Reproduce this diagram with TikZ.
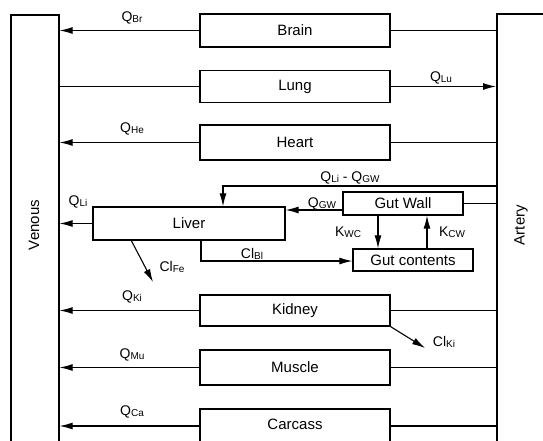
\documentclass[tikz,border=0pt]{standalone}
\usepackage{fontspec}
\setmainfont{Liberation Sans}
\usetikzlibrary{arrows.meta,calc}
\newcommand\sbq[1]{\raisebox{-0.8pt}{\fontsize{10}{10}\selectfont #1}}
\begin{document}
\begin{tikzpicture}[x=1pt,y=-1pt,
  organ/.style={draw,line width=1.3pt,inner sep=0pt,font=\fontsize{15}{17}\selectfont},
  gutbox/.style={draw,line width=1.3pt,inner sep=0pt,font=\fontsize{15}{17}\selectfont},
  vessel/.style={draw,line width=1.6pt,inner sep=0pt},
  flow/.style={line width=1.1pt},
  arr/.style={flow,-{Latex[length=13pt,width=7pt]}},
  lbl/.style={inner sep=0pt,font=\fontsize{14}{15}\selectfont},
  vtext/.style={rotate=90,font=\fontsize{15}{17}\selectfont,inner sep=0pt}]
\useasboundingbox (0,0) rectangle (543,440);
\clip (0,0) rectangle (543,440);
\fill[white] (0,0) rectangle (543,440);
% vessels
\node[vessel,minimum width=48pt,minimum height=440pt,anchor=north west] (venous) at (10,14) {};
\node[vessel,minimum width=70pt,minimum height=440pt,anchor=north west] (artery) at (496,13) {};
\node[vtext] (vlab) at (34,225) {Venous};
\node[vtext] (alab) at (521,225) {Artery};
% organs
\node[organ,minimum width=190pt,minimum height=33pt] (brain) at (295,30.5) {Brain};
\node[organ,minimum width=190pt,minimum height=32pt] (lung) at (295,86.5) {Lung};
\node[organ,minimum width=190pt,minimum height=35pt] (heart) at (295,142.5) {Heart};
\node[organ,minimum width=192pt,minimum height=33pt] (liver) at (189,223.5) {Liver};
\node[gutbox,minimum width=120pt,minimum height=23pt] (gw) at (403,203.5) {Gut Wall};
\node[gutbox,minimum width=120pt,minimum height=22pt] (gc) at (413,260) {Gut contents};
\node[organ,minimum width=190pt,minimum height=31pt] (kidney) at (295,310.5) {Kidney};
\node[organ,minimum width=190pt,minimum height=35pt] (muscle) at (295,367.5) {Muscle};
\node[organ,minimum width=190pt,text height=20pt,text depth=20pt,anchor=base] (carcass) at (295,429) {Carcass};
% coordinates
\coordinate (ybr) at (0,186);
\coordinate (turn) at (223,186);
\coordinate (yqgw) at (0,210);
\coordinate (blstart) at (201,240);
\coordinate (blturn) at (201,261);
\coordinate (festart) at (131,240);
\coordinate (feend) at (153,282);
\coordinate (kiend) at (425,348);
\coordinate (ycar) at (0,426);
\coordinate (kwcx) at (378,0);
\coordinate (kcwx) at (427,0);
% connectors venous side
\draw[arr] (brain.west) -- (brain.west -| venous.east);
\draw[flow] (venous.east |- lung.west) -- (lung.west);
\draw[arr] (heart.west) -- (heart.west -| venous.east);
\draw[arr] (liver.west) -- (liver.west -| venous.east);
\draw[arr] (kidney.west) -- (kidney.west -| venous.east);
\draw[arr] (muscle.west) -- (muscle.west -| venous.east);
\draw[arr] (carcass.west |- ycar) -- (venous.east |- ycar);
% artery side
\draw[flow] (brain.east) -- (brain.east -| artery.west);
\draw[arr] (lung.east) -- (lung.east -| artery.west);
\draw[flow] (heart.east) -- (heart.east -| artery.west);
\draw[flow] (gw.east) -- (gw.east -| artery.west);
\draw[flow] (kidney.east) -- (kidney.east -| artery.west);
\draw[flow] (muscle.east) -- (muscle.east -| artery.west);
\draw[flow] (carcass.east |- ycar) -- (artery.west |- ycar);
% liver / gut
\draw[arr] (artery.west |- ybr) -- (turn) -- (turn |- liver.north);
\draw[arr] (gw.west |- yqgw) -- (liver.east |- yqgw);
\draw[arr] (kwcx |- gw.south) -- (kwcx |- gc.north);
\draw[arr] (kcwx |- gc.north) -- (kcwx |- gw.south);
\draw[arr] (blstart) -- (blturn) -- (gc.west |- blturn);
\draw[arr] (festart) -- (feend);
\draw[arr] (kidney.south east) -- (kiend);
% labels
\node[lbl] (lbr) at (132,18) {Q\sbq{Br}};
\node[lbl] (llu) at (441,78) {Q\sbq{Lu}};
\node[lbl] (lhe) at (132,129) {Q\sbq{He}};
\node[lbl] (lli) at (78,202) {Q\sbq{Li}};
\node[lbl] (lgw) at (322,204) {Q\sbq{GW}};
\node[lbl] (llg) at (350,178) {Q\sbq{Li} - Q\sbq{GW}};
\node[lbl] (lkwc) at (348,232) {K\sbq{WC}};
\node[lbl] (lkcw) at (452,232) {K\sbq{CW}};
\node[lbl] (lbl) at (252,254) {Cl\sbq{Bl}};
\node[lbl] (lfe) at (172,267) {Cl\sbq{Fe}};
\node[lbl] (lki) at (132,297) {Q\sbq{Ki}};
\node[lbl] (lcki) at (444,342) {Cl\sbq{Ki}};
\node[lbl] (lmu) at (132,355) {Q\sbq{Mu}};
\node[lbl] (lca) at (132,412) {Q\sbq{Ca}};
\end{tikzpicture}
\end{document}
